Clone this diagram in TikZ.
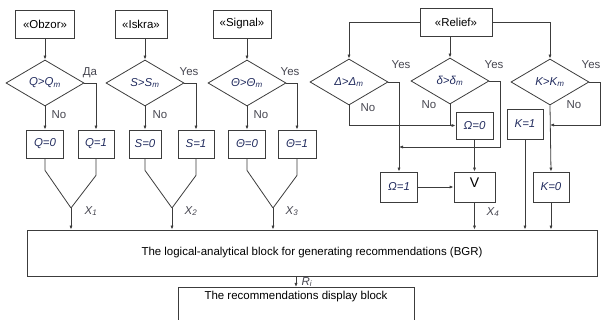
\documentclass[tikz,border=0pt]{standalone}
\usepackage{fontspec}
\setmainfont{Liberation Sans}
\usetikzlibrary{shapes.geometric,arrows.meta}
\newdimen\px \px=0.75pt
\definecolor{lc}{RGB}{60,60,60}
\definecolor{mc}{RGB}{35,45,95}
\definecolor{tc}{RGB}{70,70,80}
\newcommand{\fsz}{\fontsize{8.6}{10}\selectfont}
\begin{document}
\begin{tikzpicture}[x=0.75pt,y=-0.75pt,
  every node/.style={font=\fsz},
  box/.style={draw=lc,line width=0.6pt,inner sep=0pt,minimum height=28\px},
  dia/.style={diamond,draw=lc,line width=0.6pt,inner sep=0pt,minimum width=78\px,minimum height=46\px,aspect=1.7},
  mth/.style={text=mc,font=\fsz\itshape},
  arr/.style={-{Latex[length=3pt,width=2.4pt]}},
  ln/.style={draw=lc,line width=0.6pt},
  lab/.style={text=tc,inner sep=0pt}]
\useasboundingbox (0,0) rectangle (601,320);
% sources
\node[box,minimum width=59\px] (obzor) at (45,24) {«Obzor»};
\node[box,minimum width=52\px] (iskra) at (141,24) {«Iskra»};
\node[box,minimum width=58\px] (signal) at (242,24) {«Signal»};
\node[box,minimum width=72\px] (relief) at (456,22) {«Relief»};
% diamonds
\node[dia,mth] (d1) at (45,83) {Q>Q\textsubscript{m}};
\node[dia,mth] (d2) at (145,83) {S>S\textsubscript{m}};
\node[dia,mth] (d3) at (247,83) {Θ>Θ\textsubscript{m}};
\node[dia,mth] (d4) at (349,82) {Δ>Δ\textsubscript{m}};
\node[dia,mth] (d5) at (450,81) {δ>δ\textsubscript{m}};
\node[dia,mth] (d6) at (550,82) {K>K\textsubscript{m}};
% result boxes
\node[box,mth,minimum width=37\px] (q0) at (45,144) {Q=0};
\node[box,mth,minimum width=36\px] (q1) at (96,144) {Q=1};
\node[box,mth,minimum width=32\px] (s0) at (145,144) {S=0};
\node[box,mth,minimum width=36\px] (s1) at (196,144) {S=1};
\node[box,mth,minimum width=37\px] (t0) at (247,144) {Θ=0};
\node[box,mth,minimum width=38\px] (t1) at (297,144) {Θ=1};
\node[box,mth,minimum width=37\px,minimum height=27\px] (om0) at (474.5,125.5) {Ω=0};
\node[box,mth,minimum width=36\px,minimum height=30\px] (k1) at (525,124) {K=1};
\node[box,mth,minimum width=37\px,minimum height=30\px] (om1) at (399,187) {Ω=1};
\node[box,minimum width=41\px,minimum height=30\px,text depth=8\px,font=\fontsize{10.5}{12}\selectfont] (v) at (474.5,187) {V};
\node[box,mth,minimum width=36\px,minimum height=30\px] (k0) at (551,187) {K=0};
\node[box,minimum width=570\px,minimum height=46\px] (bgr) at (312,253) {The logical-analytical block for generating recommendations (BGR)};
\node[box,anchor=north,minimum width=236\px,minimum height=60\px,text depth=44\px] (disp) at (296,287) {The recommendations display block};
% source -> diamond
\draw[ln,arr] (obzor) -- (d1);
\draw[ln,arr] (iskra.south -| d2.north) -- (d2.north);
\draw[ln,arr] (signal.south -| d3.north) -- (d3.north);
\draw[ln,arr] (relief.west) -| (d4.north);
\draw[ln,arr] (relief.east) -| (d6.north);
\draw[ln,arr] (relief.south -| d5.north) -- (d5.north);
% columns 1-3
\foreach \d/\a/\b in {d1/q0/q1,d2/s0/s1,d3/t0/t1}{
  \draw[ln,arr] (\d.south) -- (\a.north);
  \draw[ln,arr] (\d.east) -| (\b.north);
}
\coordinate (m1) at (71,208);
\coordinate (m2) at (172,208);
\coordinate (m3) at (273,208);
\foreach \a/\b/\m in {q0/q1/m1,s0/s1/m2,t0/t1/m3}{
  \draw[ln] (\a.south) -- ++(0,12) -- (\m);
  \draw[ln] (\b.south) -- ++(0,17) -- (\m);
  \draw[ln,arr] (\m) -- (\m |- bgr.north);
}
% relief logic
\draw[ln,arr] (d4.east) -| (om1.north);
\draw[ln,arr] (d4.south) |- (om0.west);
\draw[ln] (d5.south) -- (d5.south |- om0.west);
\coordinate (j1) at (399,147);
\coordinate (y5) at (500,147);
\draw[ln,arr] (d5.east) -| (y5) -- (j1);
\draw[ln,arr] (om0) -- (v);
\draw[ln,arr] (om1) -- (v);
\draw[ln,arr] (v.south) -- (v.south |- bgr.north);
\draw[ln,arr] (d6.south) -- (k0.north);
\coordinate (j2) at (550,125);
\coordinate (y6) at (600,125);
\draw[ln,arr] (d6.east) -| (y6) -- (j2);
\draw[ln,arr] (k1.south) -- (k1.south |- bgr.north);
\draw[ln,arr] (k0.south) -- (k0.south |- bgr.north);
\draw[ln,arr] (bgr.south -| disp.north) -- (disp.north);
% labels
\node[lab] (ya1) at (90,73) {Да};
\node[lab] (ya2) at (189,72) {Yes};
\node[lab] (ya3) at (290,72) {Yes};
\node[lab] (ya4) at (401,65) {Yes};
\node[lab] (ya5) at (494,65) {Yes};
\node[lab] (ya6) at (591,65) {Yes};
\node[lab] (no1) at (59,115) {No};
\node[lab] (no2) at (160,115) {No};
\node[lab] (no3) at (261,115) {No};
\node[lab] (no4) at (368,108) {No};
\node[lab] (no5) at (429,105) {No};
\node[lab] (no6) at (574,105) {No};
\node[lab,font=\fsz\itshape] (x1) at (91,211) {X\textsubscript{1}};
\node[lab,font=\fsz\itshape] (x2) at (191,211) {X\textsubscript{2}};
\node[lab,font=\fsz\itshape] (x3) at (292,211) {X\textsubscript{3}};
\node[lab,font=\fsz\itshape] (x4) at (493,212) {X\textsubscript{4}};
\node[lab,font=\fsz\itshape] (ri) at (307,282) {R\textsubscript{i}};
\end{tikzpicture}
\end{document}
